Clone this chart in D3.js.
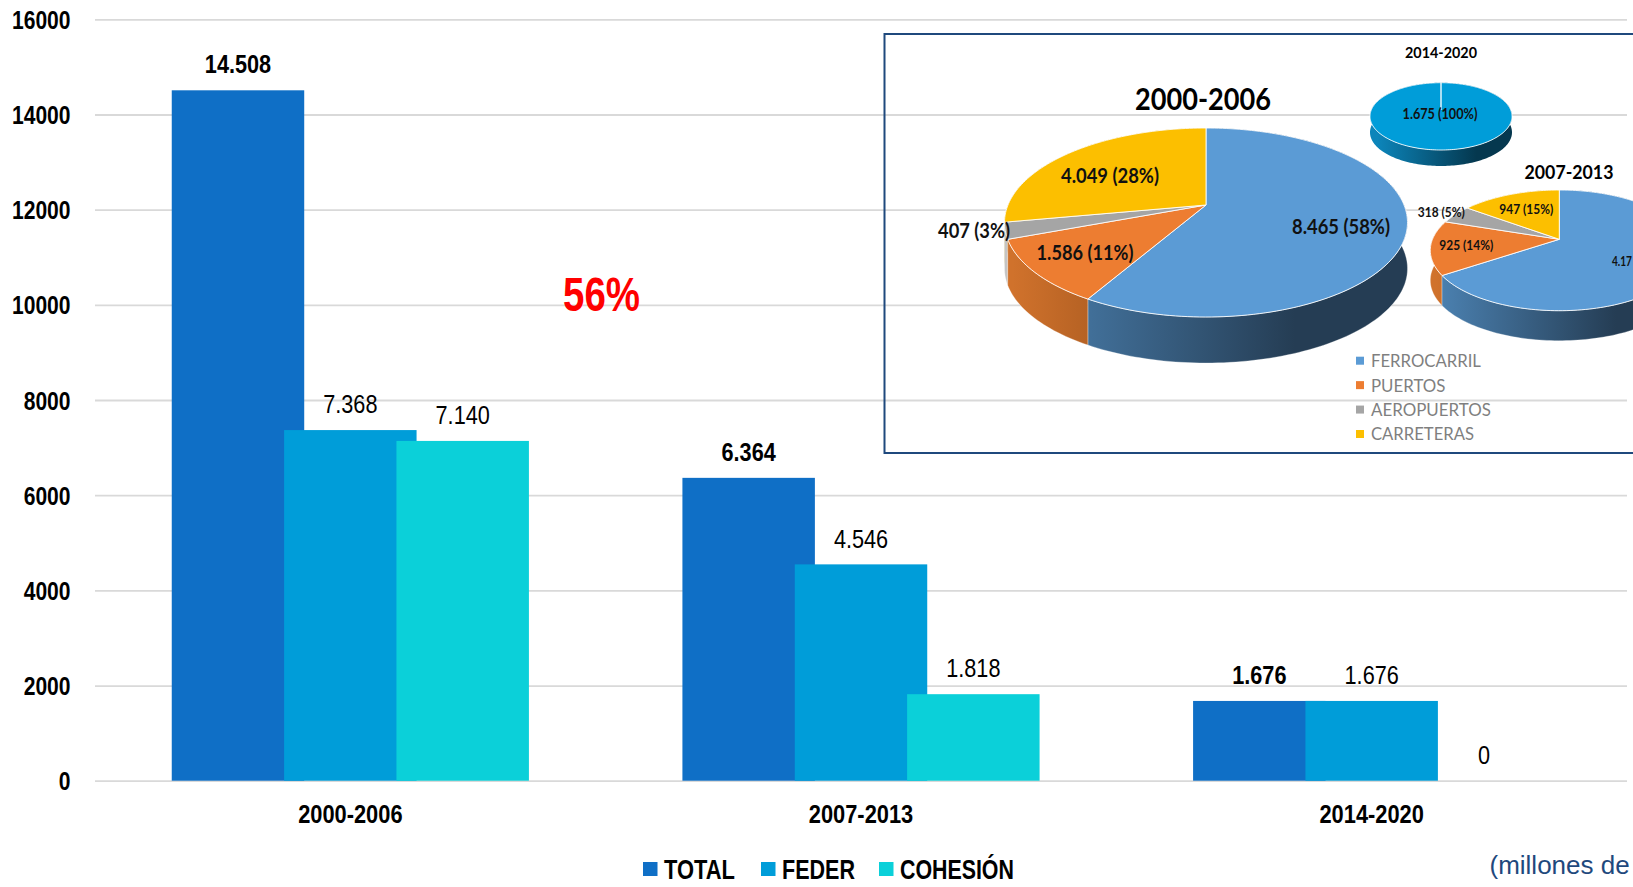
<!DOCTYPE html>
<html>
<head>
<meta charset="utf-8">
<script src="https://cdn.jsdelivr.net/npm/d3@7/dist/d3.min.js"></script>
<style>
html,body{margin:0;padding:0;background:#fff;overflow:hidden}
svg{display:block}
</style>
</head>
<body>
<div id="chart"></div>
<script>
// ---------- data ----------
const periods = ["2000-2006", "2007-2013", "2014-2020"];
const seriesNames = ["TOTAL", "FEDER", "COHESIÓN"];
const totalValues = [14508, 6364, 1676];
const federValues = [7368, 4546, 1676];
const cohesionValues = [7140, 1818, 0];
const yTicks = [0, 2000, 4000, 6000, 8000, 10000, 12000, 14000, 16000];
const seriesColors = ["#0f6fc6", "#009dd9", "#0bd0d9"];

const modes = ["FERROCARRIL", "PUERTOS", "AEROPUERTOS", "CARRETERAS"];
const modeColors = ["#5b9bd5", "#ed7d31", "#a5a5a5", "#fcbf00"];
const pie2000 = [8465, 1586, 407, 4049];
const pct2000 = ["58%", "11%", "3%", "28%"];
const pie2007 = [4174, 925, 318, 947];
const pct2007 = ["66%", "14%", "5%", "15%"];
const pie2014 = [1675];
const pct2014 = ["100%"];

// ---------- layout ----------
const W = 1633, H = 887;
const svg = d3.select("#chart").append("svg").attr("width", W).attr("height", H);
const defs = svg.append("defs");
const SANS = "'Liberation Sans', Arial, sans-serif";
const LATO = "Lato, 'Noto Sans', sans-serif";
const loc = d3.formatLocale({decimal: ",", thousands: ".", grouping: [3], currency: ["", "€"]});
const fmt = loc.format(",d");

function label(parent, txt, x, yc, o) {
  const fs = o.size;
  const t = parent.append("text").text(txt)
    .attr("text-anchor", o.anchor || "middle")
    .attr("font-family", o.family || SANS)
    .attr("font-size", fs)
    .attr("font-weight", o.weight || "normal")
    .attr("fill", o.fill || "#000");
  let s = o.scale || 1;
  if (o.width) s = o.width / t.node().getComputedTextLength();
  t.attr("transform", `translate(${x},${yc + fs * 0.36}) scale(${s},1)`);
  return t;
}

// ---------- bar chart ----------
const plotLeft = 95, plotRight = 1627, plotTop = 19.3, plotBase = 780.7;
const y = d3.scaleLinear().domain([0, 16000]).range([plotBase, plotTop]);
const x0 = d3.scaleBand().domain(periods).range([plotLeft, plotRight]);
const barW = x0.bandwidth() * 0.2594;
const x1 = d3.scalePoint().domain(seriesNames).range([-x0.bandwidth() * 0.22, x0.bandwidth() * 0.22]);

const yAxis = svg.append("g").attr("transform", `translate(${plotLeft},0)`)
  .call(d3.axisLeft(y).tickValues(yTicks).tickSizeInner(-(plotRight - plotLeft)).tickSizeOuter(0).tickPadding(24.5).tickFormat(d => d));
yAxis.select(".domain").remove();
yAxis.selectAll("line").attr("stroke", "#d9d9d9").attr("stroke-width", 1.8);
yAxis.selectAll("text")
  .attr("font-family", SANS).attr("font-size", 26).attr("font-weight", "bold").attr("fill", "#000")
  .attr("dy", null).attr("y", 9)
  .attr("x", -24.5 / 0.81).attr("transform", "scale(0.81,1)");

const xAxis = svg.append("g").attr("transform", `translate(0,${plotBase})`)
  .call(d3.axisBottom(x0).tickSize(0).tickPadding(23.9));
xAxis.select(".domain").remove();
xAxis.selectAll("text")
  .attr("font-family", SANS).attr("font-size", 26).attr("font-weight", "bold").attr("fill", "#000")
  .attr("transform", "scale(0.84,1)");

const seriesValues = [totalValues, federValues, cohesionValues];
seriesNames.forEach((s, si) => {
  const g = svg.append("g");
  const rows = periods.map((p, i) => ({p, v: seriesValues[si][i]}));
  const cx = d => x0(d.p) + x0.bandwidth() / 2 + x1(s);
  g.selectAll("rect").data(rows.filter(d => d.v > 0)).join("rect")
    .attr("x", d => cx(d) - barW / 2)
    .attr("width", barW)
    .attr("y", d => y(d.v))
    .attr("height", d => y(0) - y(d.v))
    .attr("fill", seriesColors[si]);
});
seriesNames.forEach((s, si) => {
  periods.forEach((p, i) => {
    const v = seriesValues[si][i];
    label(svg, fmt(v), x0(p) + x0.bandwidth() / 2 + x1(s), y(v) - 26,
      {size: 25.5, scale: 0.85, weight: si === 0 ? "bold" : "normal"});
  });
});

// legend of bars
const legendX = [643, 761, 879];
const legendW = [71, 73, 114];
seriesNames.forEach((s, i) => {
  svg.append("rect").attr("x", legendX[i]).attr("y", 862).attr("width", 14.5).attr("height", 14).attr("fill", seriesColors[i]);
  label(svg, s, legendX[i] + 21, 869, {size: 27, weight: "bold", anchor: "start", width: legendW[i]});
});

label(svg, "56%", 601.5, 293, {size: 49, weight: "bold", fill: "#ff0000", width: 77});
label(svg, "(millones de", 1489.5, 865, {size: 26, anchor: "start", fill: "#1f497d"});

// ---------- inset ----------
svg.append("rect").attr("x", 884.5).attr("y", 34).attr("width", 800).attr("height", 419)
  .attr("fill", "none").attr("stroke", "#1f497d").attr("stroke-width", 2);

const wallStops = {
  "#5b9bd5": [[0.05, "#4a7fae"], [0.72, "#253d54"]],
  "#ed7d31": [[0.02, "#d0722c"], [0.3, "#a95a20"]],
  "#a5a5a5": [[0, "#c4c4c4"], [1, "#c4c4c4"]],
  "#fcbf00": [[0, "#c09000"], [1, "#c09000"]],
  "#009dd9": [[0.05, "#0c85ba"], [0.75, "#05384f"]]
};

const pieGen = d3.pie().sort(null).value(d => d);
let gradId = 0;

function drawPie(cfg) {
  const {values, colors, ax, ay, upper, lower, extent, depth} = cfg;
  const Ry = 2 / (1 / upper + 1 / lower);
  const k = Ry / upper - 1;
  const Rx = extent * Math.sqrt(1 - k * k);
  const project = a => {
    const X = Math.sin(a), Y = Math.cos(a), w = 1 + k * Y;
    return [ax + Rx * X / w, ay - Ry * Y / w];
  };
  const rim = (a0, a1) => {
    const n = Math.max(2, Math.ceil((a1 - a0) * 40));
    return d3.range(n + 1).map(i => project(a0 + (a1 - a0) * i / n));
  };
  const line = d3.line();
  const arcs = pieGen(values);
  const g = svg.append("g");

  const ordered = arcs.slice().sort((a, b) =>
    Math.cos((b.startAngle + b.endAngle) / 2) - Math.cos((a.startAngle + a.endAngle) / 2));
  const hasTwoColorSide = ordered.length > 1;
  ordered.forEach(d => {
    const col = colors[d.index];
    const id = "wall" + (gradId++);
    const grad = defs.append("linearGradient").attr("id", id)
      .attr("gradientUnits", "userSpaceOnUse")
      .attr("x1", ax - extent).attr("x2", ax + extent).attr("y1", 0).attr("y2", 0);
    wallStops[col].forEach(s => grad.append("stop").attr("offset", s[0]).attr("stop-color", s[1]));
    const pts = rim(d.startAngle, d.endAngle);
    const low = pts.slice().reverse().map(p => [p[0], p[1] + depth]);
    g.append("path").attr("d", line(pts.concat(low)) + "Z")
      .attr("fill", `url(#${id})`)
      .attr("stroke", hasTwoColorSide ? "#fff" : "none").attr("stroke-opacity", 0.5).attr("stroke-width", 0.6);
  });
  arcs.forEach(d => {
    const pts = [[ax, ay]].concat(rim(d.startAngle, d.endAngle));
    g.append("path").attr("d", line(pts) + "Z")
      .attr("fill", colors[d.index]).attr("stroke", "#fff").attr("stroke-opacity", 0.85).attr("stroke-width", 1);
  });
}

drawPie({values: pie2014, colors: ["#009dd9"], ax: 1441, ay: 110, upper: 27.3, lower: 40, extent: 71, depth: 16});
drawPie({values: pie2007, colors: modeColors, ax: 1559.3, ay: 239.3, upper: 49.3, lower: 71.4, extent: 129, depth: 30});
drawPie({values: pie2000, colors: modeColors, ax: 1206, ay: 205, upper: 77, lower: 112, extent: 201.5, depth: 46});

const pieText = (v, pct) => `${fmt(v)} (${pct})`;
// label offsets from each pie's apex
[[0, 135, 21, 98], [1, -121, 47, 97], [2, -232, 25, 72], [3, -96, -30, 98]].forEach(([i, dx, dy, w]) =>
  label(svg, pieText(pie2000[i], pct2000[i]), 1206 + dx, 205 + dy, {size: 21, family: LATO, weight: "bold", fill: "#111", width: w}));
[[1, -93, 6, 54], [2, -118, -27, 47], [3, -33, -30, 54]].forEach(([i, dx, dy, w]) =>
  label(svg, pieText(pie2007[i], pct2007[i]), 1559.3 + dx, 239.3 + dy, {size: 14, family: LATO, weight: "bold", fill: "#111", width: w}));
// the reference's edge shows only the start of this slice's label
label(svg, fmt(pie2007[0]).slice(0, 4), 1612, 261.3, {size: 14, family: LATO, weight: "bold", fill: "#111", anchor: "start", width: 20});
label(svg, pieText(pie2014[0], pct2014[0]), 1440, 113.7, {size: 15, family: LATO, weight: "bold", fill: "#111", width: 75});

label(svg, periods[0], 1203, 99, {size: 31, family: LATO, weight: "bold", width: 136});
label(svg, periods[1], 1569, 172, {size: 19.5, family: LATO, weight: "bold", width: 89});
label(svg, periods[2], 1441, 52, {size: 16, family: LATO, weight: "bold", width: 72});

const modeW = [110, 74.5, 120, 103];
const modeY = d3.scalePoint().domain(modes).range([360.7, 434]);
modes.forEach((m, i) => {
  svg.append("rect").attr("x", 1356).attr("y", modeY(m) - 4).attr("width", 8).attr("height", 8).attr("fill", modeColors[i]);
  label(svg, m, 1371, modeY(m), {size: 18, family: LATO, anchor: "start", fill: "#7f7f7f", width: modeW[i]});
});
</script>
</body>
</html>
